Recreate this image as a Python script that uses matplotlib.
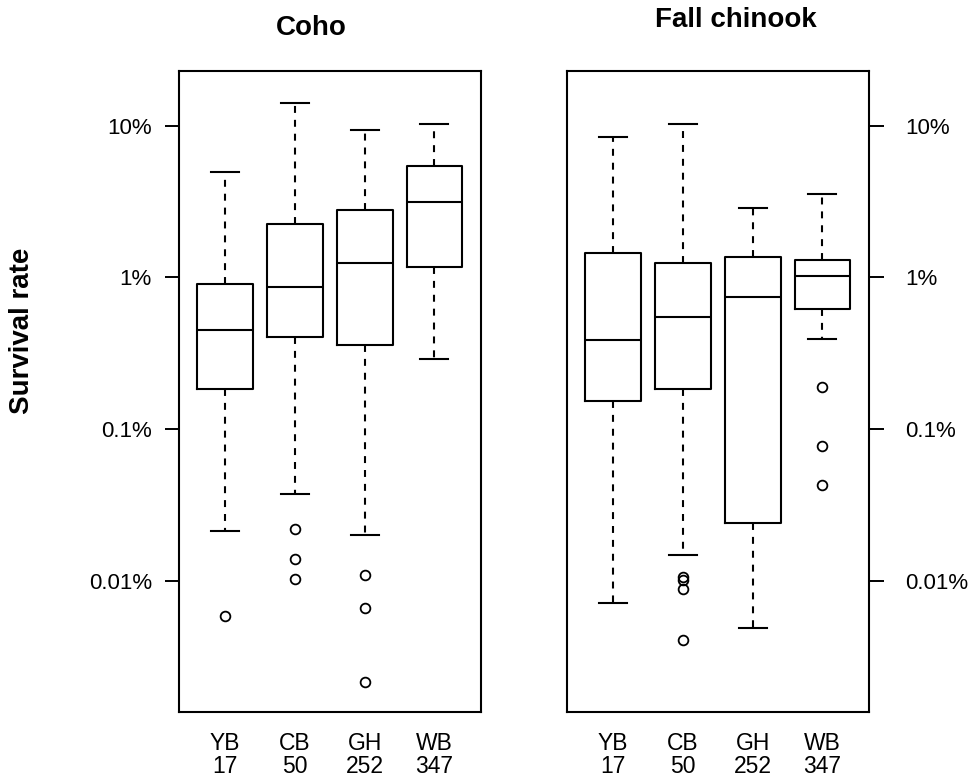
import matplotlib
matplotlib.use("Agg")
import matplotlib.pyplot as plt
from matplotlib.ticker import FixedLocator, NullLocator

plt.rcParams['font.family'] = ['Liberation Sans', 'DejaVu Sans']
plt.rcParams['lines.scale_dashes'] = False

# ---- data (survival rate, in percent) ----
species = ["Coho", "Fall chinook"]
groups = ["YB", "CB", "GH", "WB"]
n_counts = ["17", "50", "252", "347"]

coho_whislo = [0.0213, 0.0372, 0.0200, 0.290]
coho_q1 = [0.185, 0.405, 0.360, 1.18]
coho_med = [0.448, 0.869, 1.25, 3.15]
coho_q3 = [0.905, 2.26, 2.78, 5.45]
coho_whishi = [4.93, 14.2, 9.37, 10.2]
coho_fliers = [[0.00586], [0.0218, 0.01387, 0.01028], [0.0109, 0.00665, 0.00215], []]

chin_whislo = [0.00711, 0.0148, 0.00491, 0.391]
chin_q1 = [0.154, 0.183, 0.0239, 0.616]
chin_med = [0.387, 0.548, 0.743, 1.02]
chin_q3 = [1.455, 1.24, 1.37, 1.30]
chin_whishi = [8.38, 10.2, 2.85, 3.53]
chin_fliers = [[], [0.0106, 0.0101, 0.0088, 0.00407], [], [0.190, 0.0778, 0.0428]]

ytick_vals = [10, 1, 0.1, 0.01]
ytick_labels = ["10%", "1%", "0.1%", "0.01%"]


def make_stats(lo, q1, med, q3, hi, fl):
    return [dict(whislo=a, q1=b, med=c, q3=d, whishi=e, fliers=f, label=g)
            for a, b, c, d, e, f, g in zip(lo, q1, med, q3, hi, fl, groups)]


stats = [make_stats(coho_whislo, coho_q1, coho_med, coho_q3, coho_whishi, coho_fliers),
         make_stats(chin_whislo, chin_q1, chin_med, chin_q3, chin_whishi, chin_fliers)]

W, H = 973, 783
fig = plt.figure(figsize=(W / 100, H / 100), dpi=100)

lw = 1.5
lefts = [179, 567]
for i in range(2):
    ax = fig.add_axes([lefts[i] / W, (H - 711.5) / H, 301.5 / W, 640 / H])
    ax.bxp(stats[i], positions=[1, 2, 3, 4], widths=0.8, showfliers=True,
           patch_artist=False,
           boxprops=dict(color='black', linewidth=lw),
           medianprops=dict(color='black', linewidth=lw),
           whiskerprops=dict(color='black', linewidth=lw, linestyle=(0, (5, 5))),
           capprops=dict(color='black', linewidth=lw),
           capwidths=0.4,
           flierprops=dict(marker='o', markersize=7, markerfacecolor='none',
                           markeredgecolor='black', markeredgewidth=1.3, linestyle='none'))
    ax.set_yscale('log')
    ax.set_ylim(0.001375, 22.8)
    ax.set_xlim(0.34, 4.66)
    ax.yaxis.set_major_locator(FixedLocator(ytick_vals))
    ax.yaxis.set_minor_locator(NullLocator())
    ax.set_yticklabels(ytick_labels)
    ax.set_xticks([1, 2, 3, 4])
    ax.set_xticklabels([g + "\n" + n for g, n in zip(groups, n_counts)],
                       fontsize=16.5, linespacing=1.0)
    ax.tick_params(axis='x', length=0, pad=15)
    for s in ax.spines.values():
        s.set_linewidth(1.5)
    if i == 0:
        ax.tick_params(axis='y', which='major', left=True, right=False,
                       length=10, width=1.4, pad=9.5, labelsize=16)
    else:
        ax.yaxis.tick_right()
        ax.tick_params(axis='y', which='major', left=False, right=True,
                       labelleft=False, labelright=True,
                       length=10.5, width=1.4, pad=16, labelsize=16)
        for t in ax.get_yticklabels():
            t.set_horizontalalignment('left')

fig.text(311 / W, 1 - 35 / H, species[0], ha='center', va='baseline',
         fontsize=20, fontweight='bold')
fig.text(736 / W, 1 - 27 / H, species[1], ha='center', va='baseline',
         fontsize=20, fontweight='bold')
fig.text(22 / W, 1 - 331 / H, "Survival rate", ha='center', va='center',
         rotation=90, fontsize=20, fontweight='bold')

fig.savefig("out.png", dpi=100)
